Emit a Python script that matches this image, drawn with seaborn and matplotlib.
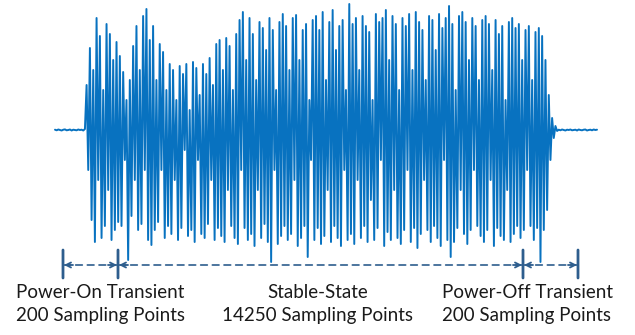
import matplotlib
matplotlib.use("Agg")
import numpy as np
import pandas as pd
import matplotlib.pyplot as plt
import seaborn as sns

# ---------------- data (arbitrary amplitude units) ----------------
pre_flat = [0.3, -0.3, 0.5, 0, -0.5, 0.3, 0.6, -0.3, 0, 0.5, -0.5, 0.3, 0, -0.3,
            0.5, 0, 0.3, -0.5, 1]

peaks = [
    45, 82, 60, 112, 94, 40, 106, 96, 70, 88,
    74, 58, 30, 50, 84, 104, 60, 114, 121, 90,
    104, 50, 86, 78, 40, 66, 60, 30, 64, 56,
    66, 20, 68, 62, 35, 66, 56, 72, 45, 86,
    90, 60, 92, 84, 40, 96, 110, 118, 70, 112,
    96, 50, 108, 102, 80, 112, 100, 40, 108, 116,
    104, 60, 112, 115, 70, 100, 106, 30, 110, 114,
    100, 118, 50, 108, 120, 80, 104, 110, 40, 126,
    106, 112, 60, 114, 104, 98, 30, 116, 108, 112,
    120, 70, 114, 106, 40, 112, 104, 116, 60, 118,
    108, 100, 50, 114, 110, 80, 116, 102, 112, 124,
    106, 40, 114, 118, 108, 70, 112, 104, 50, 110,
    114, 106, 60, 110, 96, 104, 30, 108, 112, 102,
    106, 70, 100, 104, 50, 98, 102, 94, 70, 35,
]

troughs = [
    -40, -90, -112, -50, -108, -96, -60, -110, -100, -92,
    -96, -30, -130, -86, -50, -100, -94, -40, -110, -115,
    -100, -92, -40, -108, -96, -104, -50, -110, -98, -20,
    -106, -100, -112, -30, -104, -108, -94, -50, -110, -98,
    -106, -112, -60, -96, -108, -114, -40, -98, -110, -104,
    -116, -60, -108, -94, -112, -132, -40, -114, -106, -96,
    -110, -104, -50, -116, -108, -96, -127, -30, -110, -98,
    -114, -106, -60, -112, -96, -108, -116, -40, -110, -104,
    -114, -50, -108, -96, -112, -70, -110, -98, -30, -116,
    -102, -110, -60, -108, -114, -100, -40, -112, -98, -118,
    -104, -50, -100, -112, -96, -108, -116, -30, -110, -127,
    -112, -98, -60, -104, -114, -100, -40, -96, -106, -112,
    -100, -50, -116, -98, -106, -110, -60, -112, -104, -96,
    -108, -100, -40, -96, -110, -98, -132, -100, -80, -30,
]

post_flat = [12, -8, 4, -1, 0.3, -0.3, 0.5, 0, -0.5, 0.3, 0, 0.5, -0.3, 0, 0.3, -0.5,
             0.5, 0, -0.3, 0.3, 0.5, -0.5, 0, 0.3, -0.3, 0.5, 0, 0.3]

segment_titles = ["Power-On Transient", "Stable-State", "Power-Off Transient"]
segment_points = [200, 14250, 200]

# ---------------- build series ----------------
osc = []
for p, t in zip(peaks, troughs):
    osc += [p, t]
signal = pre_flat + osc + post_flat
df = pd.DataFrame({"sample": np.arange(len(signal)), "amp": signal})

# ---------------- figure ----------------
sns.set_style("white")
W, H = 635, 335
fig = plt.figure(figsize=(W / 100, H / 100), dpi=100)
ax = fig.add_axes([0, 0, 1, 1])

sns.lineplot(data=df, x="sample", y="amp", ax=ax, color="#0872C0",
             linewidth=1.4, estimator=None, sort=False)

x_start_px, x_end_px = 55, 597
ppp = (x_end_px - x_start_px) / (len(signal) - 1)
ax.set_xlim(-x_start_px / ppp, (W - x_start_px) / ppp)
ax.set_ylim(-205, 130)
ax.axis("off")

# ---------------- annotations (figure pixels, origin bottom-left) ----------------
acol = "#2E5E8E"
bars = [63, 118, 523, 578]
y_line = H - 265
for bx in bars:
    ax.annotate("", xy=(bx, H - 250), xytext=(bx, H - 278), xycoords="figure pixels",
                textcoords="figure pixels",
                arrowprops=dict(arrowstyle="-", lw=2.0, color=acol, shrinkA=0, shrinkB=0))
for a, b in zip(bars[:-1], bars[1:]):
    ax.annotate("", xy=(b - 1, y_line), xytext=(a + 1, y_line), xycoords="figure pixels",
                textcoords="figure pixels",
                arrowprops=dict(arrowstyle="-", lw=1.2, color=acol, linestyle=(0, (4, 3)),
                                shrinkA=0, shrinkB=0))
    for tip, tail in [(a + 1, a + 10), (b - 1, b - 10)]:
        ax.annotate("", xy=(tip, y_line), xytext=(tail, y_line), xycoords="figure pixels",
                    textcoords="figure pixels",
                    arrowprops=dict(arrowstyle="->", lw=1.3, color=acol,
                                    mutation_scale=9, shrinkA=0, shrinkB=0))

centers = [100, 318, 527]
for cx, title, n in zip(centers, segment_titles, segment_points):
    fig.text(cx / W, 1 - 292 / H, title, ha="center", va="center",
             fontsize=13.5, family="Lato", color="#1a1a1a")
    fig.text(cx / W, 1 - 316 / H, f"{n} Sampling Points", ha="center", va="center",
             fontsize=13.5, family="Lato", color="#1a1a1a")

fig.savefig("out.png", dpi=100)
